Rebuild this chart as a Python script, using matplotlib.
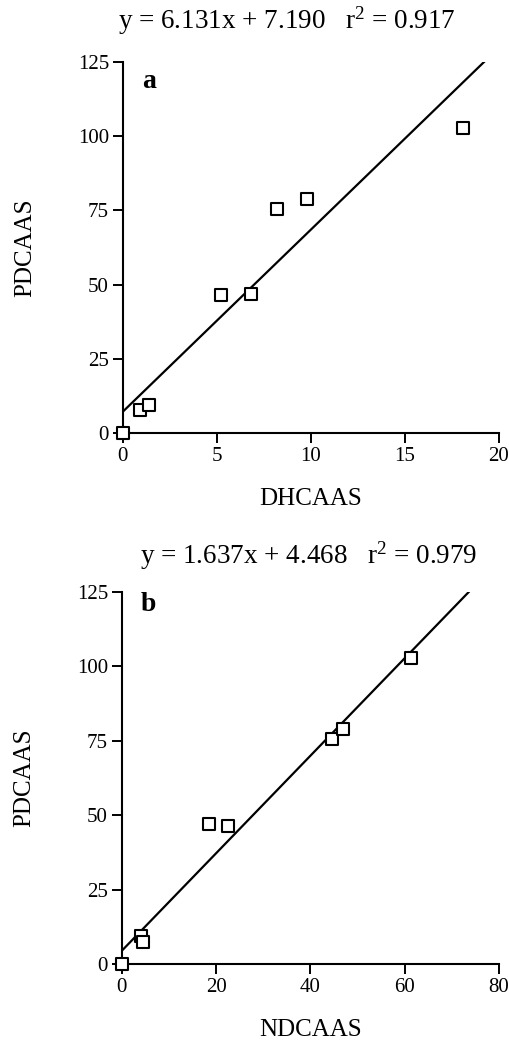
import numpy as np
import matplotlib
matplotlib.use('Agg')
import matplotlib.pyplot as plt

plt.rcParams['font.family'] = ['Liberation Serif', 'DejaVu Serif']
plt.rcParams['mathtext.fontset'] = 'custom'
plt.rcParams['mathtext.rm'] = 'Liberation Serif'
plt.rcParams['mathtext.it'] = 'Liberation Serif:italic'

# panel a: PDCAAS vs DHCAAS
dhcaas = [0.0, 0.9, 1.4, 5.2, 6.8, 8.2, 9.8, 18.1]
pdcaas_a = [0.0, 7.6, 9.4, 46.4, 46.8, 75.6, 78.7, 102.8]

# panel b: PDCAAS vs NDCAAS
ndcaas = [0.0, 4.0, 4.5, 18.4, 22.5, 44.6, 46.9, 61.3]
pdcaas_b = [0.0, 9.5, 7.4, 47.0, 46.3, 75.6, 78.8, 102.9]

# fitted lines as printed on the chart (slope, intercept, r^2)
fit_a = (6.131, 7.190, 0.917)
fit_b = (1.637, 4.468, 0.979)

xticks_a = [0, 5, 10, 15, 20]
xticks_b = [0, 20, 40, 60, 80]
yticks = [0, 25, 50, 75, 100, 125]

panels = [
    ('a', dhcaas, pdcaas_a, fit_a, 'DHCAAS', xticks_a),
    ('b', ndcaas, pdcaas_b, fit_b, 'NDCAAS', xticks_b),
]

# layout per panel: axes rect, title position, letter y
layout = [
    dict(rect=[0.241, 0.5837, 0.737, 0.3567], title_xy=(0.436, 1.112), letter_y=0.98),
    dict(rect=[0.239, 0.0731, 0.739, 0.3577], title_xy=(0.496, 1.097), letter_y=1.0),
]

fig = plt.figure(figsize=(5.1, 10.4), dpi=100)

for (letter, x, y, fit, xlabel, xticks), lay in zip(panels, layout):
    ax = fig.add_axes(lay['rect'])
    slope, intercept, r2 = fit
    x_end = (yticks[-1] - intercept) / slope
    xs = np.array([0, x_end])
    ax.plot(xs, slope * xs + intercept, color='black', lw=1.6, zorder=2)
    ax.scatter(x, y, marker='s', s=85, facecolors='white', edgecolors='black',
               linewidths=1.5, zorder=3, clip_on=False)

    ax.set_xlim(xticks[0], xticks[-1])
    ax.set_ylim(yticks[0], yticks[-1])
    ax.set_xticks(xticks)
    ax.set_yticks(yticks)
    for side in ['top', 'right']:
        ax.spines[side].set_visible(False)
    for side in ['left', 'bottom']:
        ax.spines[side].set_linewidth(1.5)
    ax.tick_params(direction='out', length=7, width=1.4, labelsize=15, pad=3)

    ax.set_xlabel(xlabel, fontsize=18, labelpad=16)
    ax.set_ylabel('PDCAAS', fontsize=18, labelpad=30)
    ax.text(0.05, lay['letter_y'], letter, transform=ax.transAxes, fontsize=20,
            fontweight='bold', ha='left', va='top')
    ax.text(lay['title_xy'][0], lay['title_xy'][1],
            'y = %.3fx + %.3f   r$^2$ = %.3f' % (slope, intercept, r2),
            transform=ax.transAxes, fontsize=19.5, ha='center', va='center')

fig.savefig('out.png', dpi=100)
